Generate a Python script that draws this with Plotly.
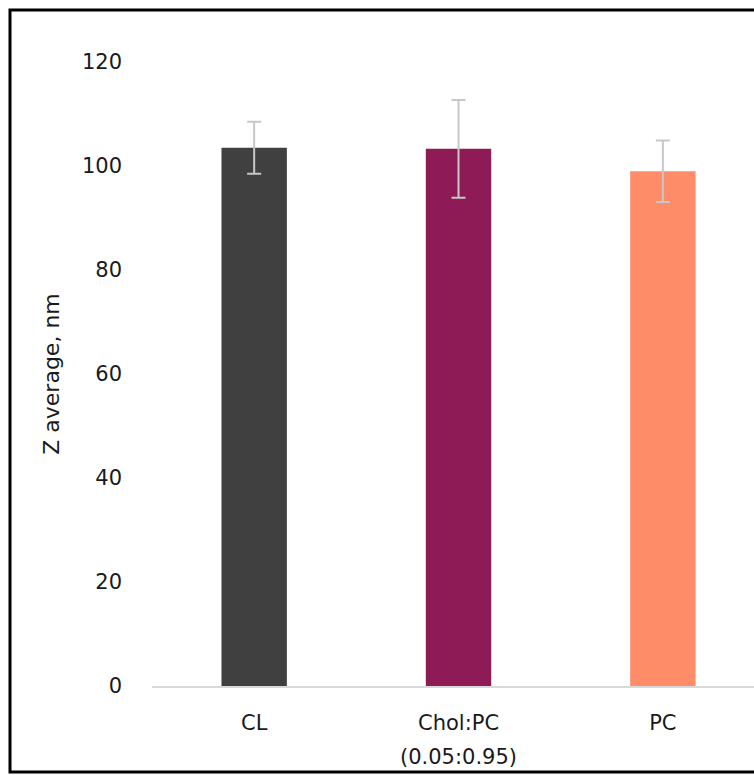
import plotly.graph_objects as go

categories = ["CL", "Chol:PC", "PC"]
sub_label = "(0.05:0.95)"
values = [103.5, 103.3, 99.0]
errors = [5.0, 9.4, 5.9]
colors = ["#404040", "#8E1B55", "#FF8C69"]
y_ticks = [0, 20, 40, 60, 80, 100, 120]

W, H = 754, 775
L, R, T, B = 152, 0, 62, 89
pw, ph = W - L - R, H - T - B
FONT = "DejaVu Sans, Liberation Sans, Arial"
TXT = "#1a1a1a"

fig = go.Figure(go.Bar(
    x=categories, y=values, marker_color=colors, marker_line_width=0,
    error_y=dict(type="data", array=errors, color="#C8C8C8", thickness=2, width=7),
    width=0.32,
))

def px(x):
    return (x - L) / pw

def py(y):
    return (H - B - y) / ph

fig.update_layout(
    width=W, height=H,
    margin=dict(l=L, r=R, t=T, b=B, pad=0),
    plot_bgcolor="white", paper_bgcolor="white",
    font=dict(family=FONT, size=21, color=TXT),
    showlegend=False,
    xaxis=dict(range=[-0.5, 2.446], showline=True, linecolor="#D9D9D9", linewidth=2,
               showgrid=False, ticks="", ticklabelstandoff=17,
               tickfont=dict(family=FONT, size=21, color=TXT)),
    yaxis=dict(range=[0, 120], tickvals=y_ticks, showgrid=False, zeroline=False,
               showline=False, ticks="", ticklabelstandoff=29,
               tickfont=dict(family=FONT, size=21, color=TXT),
               title=dict(text="Z average, nm", standoff=16,
                          font=dict(family=FONT, size=22, color=TXT))),
    annotations=[dict(x=categories[1], xref="x", y=py(757), yref="paper",
                      text=sub_label, showarrow=False, xanchor="center", yanchor="middle",
                      font=dict(family=FONT, size=21, color=TXT))],
    shapes=[dict(type="rect", xref="paper", yref="paper",
                 x0=px(10), x1=px(W + 20), y0=py(772), y1=py(10),
                 line=dict(color="black", width=3), fillcolor="rgba(0,0,0,0)", layer="above")],
)

fig.write_html("out.html")
